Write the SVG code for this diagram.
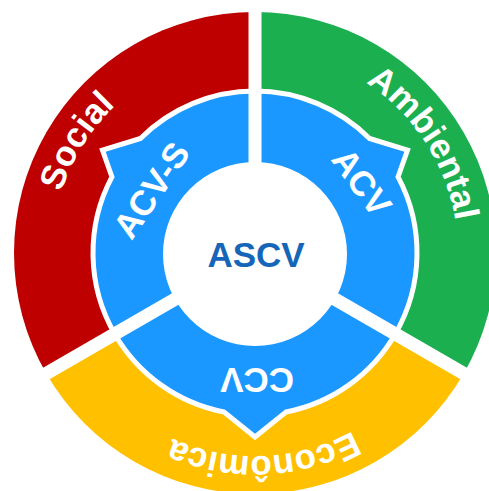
<svg xmlns="http://www.w3.org/2000/svg" width="489" height="491" viewBox="0 0 489 491">
<style>
.lbl{font-family:"Liberation Sans",Arial,sans-serif;font-weight:bold;fill:#fff;font-size:35px}
.blue{fill:#1A98FF;stroke:#fff;stroke-width:5;stroke-linejoin:miter}
.sep{stroke:#fff;stroke-width:13}
</style>
<defs>
<path id="ring" d="M 458,253 A 203 203 0 1 1 52,253 A 203 203 0 1 1 458,253"/>
</defs>
<rect width="489" height="491" fill="#fff"/>
<g id="social">
<path d="M 255,253 L 46.29,373.5 A 241 241 0 0 1 255,12 Z" fill="#BE0000"/>
<text class="lbl" text-anchor="middle"><textPath href="#ring" startOffset="751">Social</textPath></text>
</g>
<g id="ambiental">
<path d="M 255,253 L 255,12 A 241 241 0 0 1 463.71,373.5 Z" fill="#1BAF50"/>
<text class="lbl" text-anchor="middle"><textPath href="#ring" startOffset="1158">Ambiental</textPath></text>
</g>
<g id="economica">
<path d="M 255,253 L 463.71,373.5 A 241 241 0 0 1 46.29,373.5 Z" fill="#FFC000"/>
<text class="lbl" text-anchor="middle"><textPath href="#ring" startOffset="310">Econômica</textPath></text>
</g>
<g id="acv-s">
<path class="blue" d="M 255,253 L 114.70,334 A 162 162 0 0 1 111.96,176.95 L 102.46,150.11 L 140.45,138.45 A 162 162 0 0 1 255,91 Z"/>
<text class="lbl" text-anchor="middle" transform="translate(151,190) rotate(-56)" x="0" y="12.5">ACV-S</text>
</g>
<g id="acv">
<path class="blue" d="M 255,253 L 255,91 A 162 162 0 0 1 369.55,138.45 L 407.54,150.11 L 398.04,176.95 A 162 162 0 0 1 395.30,334 Z"/>
<text class="lbl" text-anchor="middle" transform="translate(362,182) rotate(54)" x="0" y="12.5">ACV</text>
</g>
<g id="ccv">
<path class="blue" d="M 255,253 L 395.30,334 A 162 162 0 0 1 285.91,412.02 L 255,437 L 224.09,412.02 A 162 162 0 0 1 114.70,334 Z"/>
<text class="lbl" text-anchor="middle" transform="translate(257,380) rotate(180)" x="0" y="12.5">CCV</text>
</g>
<g id="separators">
<line class="sep" x1="255" y1="253" x2="255" y2="2"/>
<line class="sep" x1="255" y1="253" x2="472.4" y2="378.5"/>
<line class="sep" x1="255" y1="253" x2="37.6" y2="378.5"/>
</g>
<g id="ascv">
<circle cx="255" cy="254" r="92" fill="#fff"/>
<text x="256" y="267" text-anchor="middle" style="font-family:'Liberation Sans',Arial,sans-serif;font-weight:bold;font-size:35px;fill:#1565B8">ASCV</text>
</g>
</svg>
